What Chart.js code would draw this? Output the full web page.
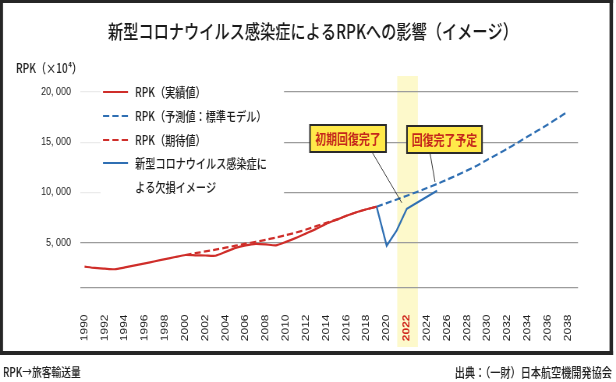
<!DOCTYPE html>
<html><head><meta charset="utf-8">
<script src="https://cdn.jsdelivr.net/npm/chart.js@4.4.1/dist/chart.umd.min.js"></script>
<style>html,body{margin:0;padding:0;background:#fff;}#wrap{width:616px;height:382px;}canvas{display:block;width:616px;height:382px;}</style>
</head><body><div id="wrap"><canvas id="c" width="790" height="382" style="width:616px;height:382px"></canvas></div>
<script>
// ---- data ----
const years = [1990,1991,1992,1993,1994,1995,1996,1997,1998,1999,2000,2001,2002,2003,2004,2005,2006,2007,2008,2009,2010,2011,2012,2013,2014,2015,2016,2017,2018,2019,2020,2021,2022,2023,2024,2025,2026,2027,2028,2029,2030,2031,2032,2033,2034,2035,2036,2037,2038];
const tickYears = [1990,1992,1994,1996,1998,2000,2002,2004,2006,2008,2010,2012,2014,2016,2018,2020,2022,2024,2026,2028,2030,2032,2034,2036,2038];
const yTicks = [500,5000,10000,15000,20000];
const highlightYear = 2022;

const actualStart = 1990;   // RPK（実績値）
const actualValues = [2580,2450,2380,2320,2500,2700,2900,3120,3330,3540,3740,3710,3690,3670,4050,4450,4700,4850,4800,4700,5050,5450,5900,6350,6850,7250,7650,8000,8300,8560];
const expectedStart = 2000; // RPK（期待値）
const expectedValues = [3740,3920,4100,4280,4470,4670,4870,5060,5260,5480,5720,5980,6280,6620,6950,7270,7650,8000,8300,8560];
const forecastStart = 2019; // RPK（予測値：標準モデル）
const forecastValues = [8560,8920,9280,9650,10030,10420,10830,11260,11710,12180,12670,13250,13800,14350,14950,15550,16150,16750,17400,18050];
const covidStart = 2019;    // 新型コロナウイルス感染症による欠損イメージ
const covidValues = [8560,4670,6200,8350,8950,9560,10150];

const labels = {
  actual: 'RPK（実績値）',
  forecast: 'RPK（予測値：標準モデル）',
  expected: 'RPK（期待値）',
  covid: ['新型コロナウイルス感染症に','よる欠損イメージ']
};
const titleText = '新型コロナウイルス感染症によるRPKへの影響（イメージ）';
const yTitle = 'RPK（×10⁴）';
const note1 = '初期回復完了';
const note2 = '回復完了予定';
const footLeft = 'RPK→旅客輸送量';
const footRight = '出典：（一財）日本航空機開発協会';

// ---- drawing ----
const S = 616/790;           // horizontal compression of the whole picture
const X = v => v / S;        // css x -> canvas x
const RED = '#cf2e2a', BLUE = '#2f6fb3';
const JP = '"Noto Sans CJK JP", "Noto Sans", sans-serif';
const pts = (start, vals) => vals.map((v,i) => ({x: start+i, y: v}));

function txt(ctx, s, x, y, size, color, align, weight) {
  ctx.save();
  ctx.font = (weight||'500') + ' ' + size + 'px ' + JP;
  ctx.fillStyle = color; ctx.textAlign = align||'left'; ctx.textBaseline = 'middle';
  ctx.fillText(s, X(x), y);
  ctx.restore();
}

const deco = {
  id: 'deco',
  beforeDraw(chart) {
    const ctx = chart.ctx, xs = chart.scales.x;
    ctx.save();
    ctx.fillStyle = '#fff'; ctx.fillRect(0,0,chart.width,chart.height);
    const a = xs.getPixelForValue(highlightYear-0.95), b = xs.getPixelForValue(highlightYear+1.1);
    ctx.fillStyle = 'rgba(252,247,185,0.75)';
    ctx.fillRect(a, 76, b-a, 347-76);
    ctx.restore();
  },
  afterDraw(chart) {
    const ctx = chart.ctx, xs = chart.scales.x, ys = chart.scales.y;
    ctx.save();
    // legend panel
    ctx.fillStyle = 'rgba(255,255,255,0.8)'; ctx.fillRect(X(80), 80, X(100)-X(80), 120);
    ctx.fillStyle = '#fff'; ctx.fillRect(X(100), 80, X(284)-X(100), 120);
    const ds = chart.data.datasets;
    const rows = [[0,92],[1,116],[2,140],[3,163]];
    rows.forEach(([i,y]) => {
      const d = ds[i];
      ctx.save();
      ctx.strokeStyle = d.borderColor; ctx.lineWidth = 2.2;
      ctx.setLineDash(d.borderDash || []);
      ctx.beginPath(); ctx.moveTo(X(103), y); ctx.lineTo(X(128), y); ctx.stroke();
      ctx.restore();
      const lab = Array.isArray(d.label) ? d.label : [d.label];
      lab.forEach((t,k) => txt(ctx, t, 135, y + k*24, 13, '#1e1e1e'));
    });
    // notes with leader lines
    const p1 = {x: xs.getPixelForValue(2022), y: ys.getPixelForValue(covidValues[3])};
    const p2 = {x: xs.getPixelForValue(2025), y: ys.getPixelForValue(forecastValues[6])};
    ctx.strokeStyle = '#333'; ctx.lineWidth = 1;
    ctx.beginPath(); ctx.moveTo(X(372),152); ctx.lineTo(p1.x - X(5), p1.y - 6); ctx.stroke();
    ctx.beginPath(); ctx.moveTo(X(430),153); ctx.lineTo(p2.x - X(2), p2.y - 2); ctx.stroke();
    [[note1,310,125,76],[note2,407,126,75]].forEach(([t,x,y,w]) => {
      ctx.fillStyle = '#ffe94a'; ctx.fillRect(X(x), y, X(x+w)-X(x), 27);
      ctx.strokeStyle = '#2a2a2a'; ctx.lineWidth = 2;
      ctx.strokeRect(X(x), y, X(x+w)-X(x), 27);
      txt(ctx, t, x + w/2, y + 14, 14, '#c4261c', 'center', 'bold');
    });
    // titles and footer
    txt(ctx, titleText, 313, 32, 19.5, '#1a1a1a', 'center');
    txt(ctx, yTitle, 16, 68, 13, '#1e1e1e');
    txt(ctx, footLeft, 3, 372, 12.5, '#222');
    txt(ctx, footRight, 612, 372, 13, '#222', 'right');
    // frame
    ctx.fillStyle = '#262626';
    ctx.fillRect(0,0,X(613),3);
    ctx.fillRect(0,351,X(613),4);
    ctx.fillRect(0,0,X(3),355);
    ctx.fillRect(X(609.5),0,X(3.5),355);
    ctx.restore();
  }
};

new Chart(document.getElementById('c'), {
  type: 'line',
  data: {
    datasets: [
      {label: labels.actual, data: pts(actualStart, actualValues), borderColor: RED, borderWidth: 2.2, pointRadius: 0, tension: 0.2},
      {label: labels.forecast, data: pts(forecastStart, forecastValues), borderColor: BLUE, borderWidth: 2.2, borderDash: [8,4], pointRadius: 0, tension: 0.2},
      {label: labels.expected, data: pts(expectedStart, expectedValues), borderColor: RED, borderWidth: 2.2, borderDash: [8,4], pointRadius: 0, tension: 0.2},
      {label: labels.covid, data: pts(covidStart, covidValues), borderColor: BLUE, borderWidth: 2.2, pointRadius: 0, tension: 0}
    ]
  },
  options: {
    responsive: false, animation: false, devicePixelRatio: 1,
    layout: {padding: {left: 0, right: X(38), top: 92, bottom: 0}},
    plugins: {legend: {display: false}, title: {display: false}, tooltip: {enabled: false}},
    scales: {
      x: {
        type: 'linear', min: 1989.55, max: 2039,
        afterBuildTicks: ax => { ax.ticks = tickYears.map(v => ({value: v})); },
        afterFit: ax => { ax.height = 382 - 287.5; },
        grid: {display: false}, border: {display: false},
        ticks: {
          autoSkip: false, maxRotation: 90, minRotation: 90, padding: 19,
          callback: v => String(v),
          color: c => (c.tick && c.tick.value === highlightYear) ? '#d0281e' : '#1e1e1e',
          font: c => ({family: '"Liberation Sans", Arial, sans-serif', size: 12, weight: (c.tick && c.tick.value === highlightYear) ? 'bold' : 'normal'})
        }
      },
      y: {
        min: 500, max: 20000,
        afterBuildTicks: ax => { ax.ticks = yTicks.map(v => ({value: v})); },
        afterFit: ax => { ax.width = X(80); },
        grid: {color: '#9c9c9c', lineWidth: 1.2, drawTicks: false},
        border: {display: false},
        ticks: {
          padding: X(9), color: '#222',
          font: {family: '"Liberation Sans", Arial, sans-serif', size: 11.5},
          callback: v => v === yTicks[0] ? '' : v.toLocaleString('en-US').replace(',', ', ')
        }
      }
    }
  },
  plugins: [deco]
});
</script>
</body></html>
